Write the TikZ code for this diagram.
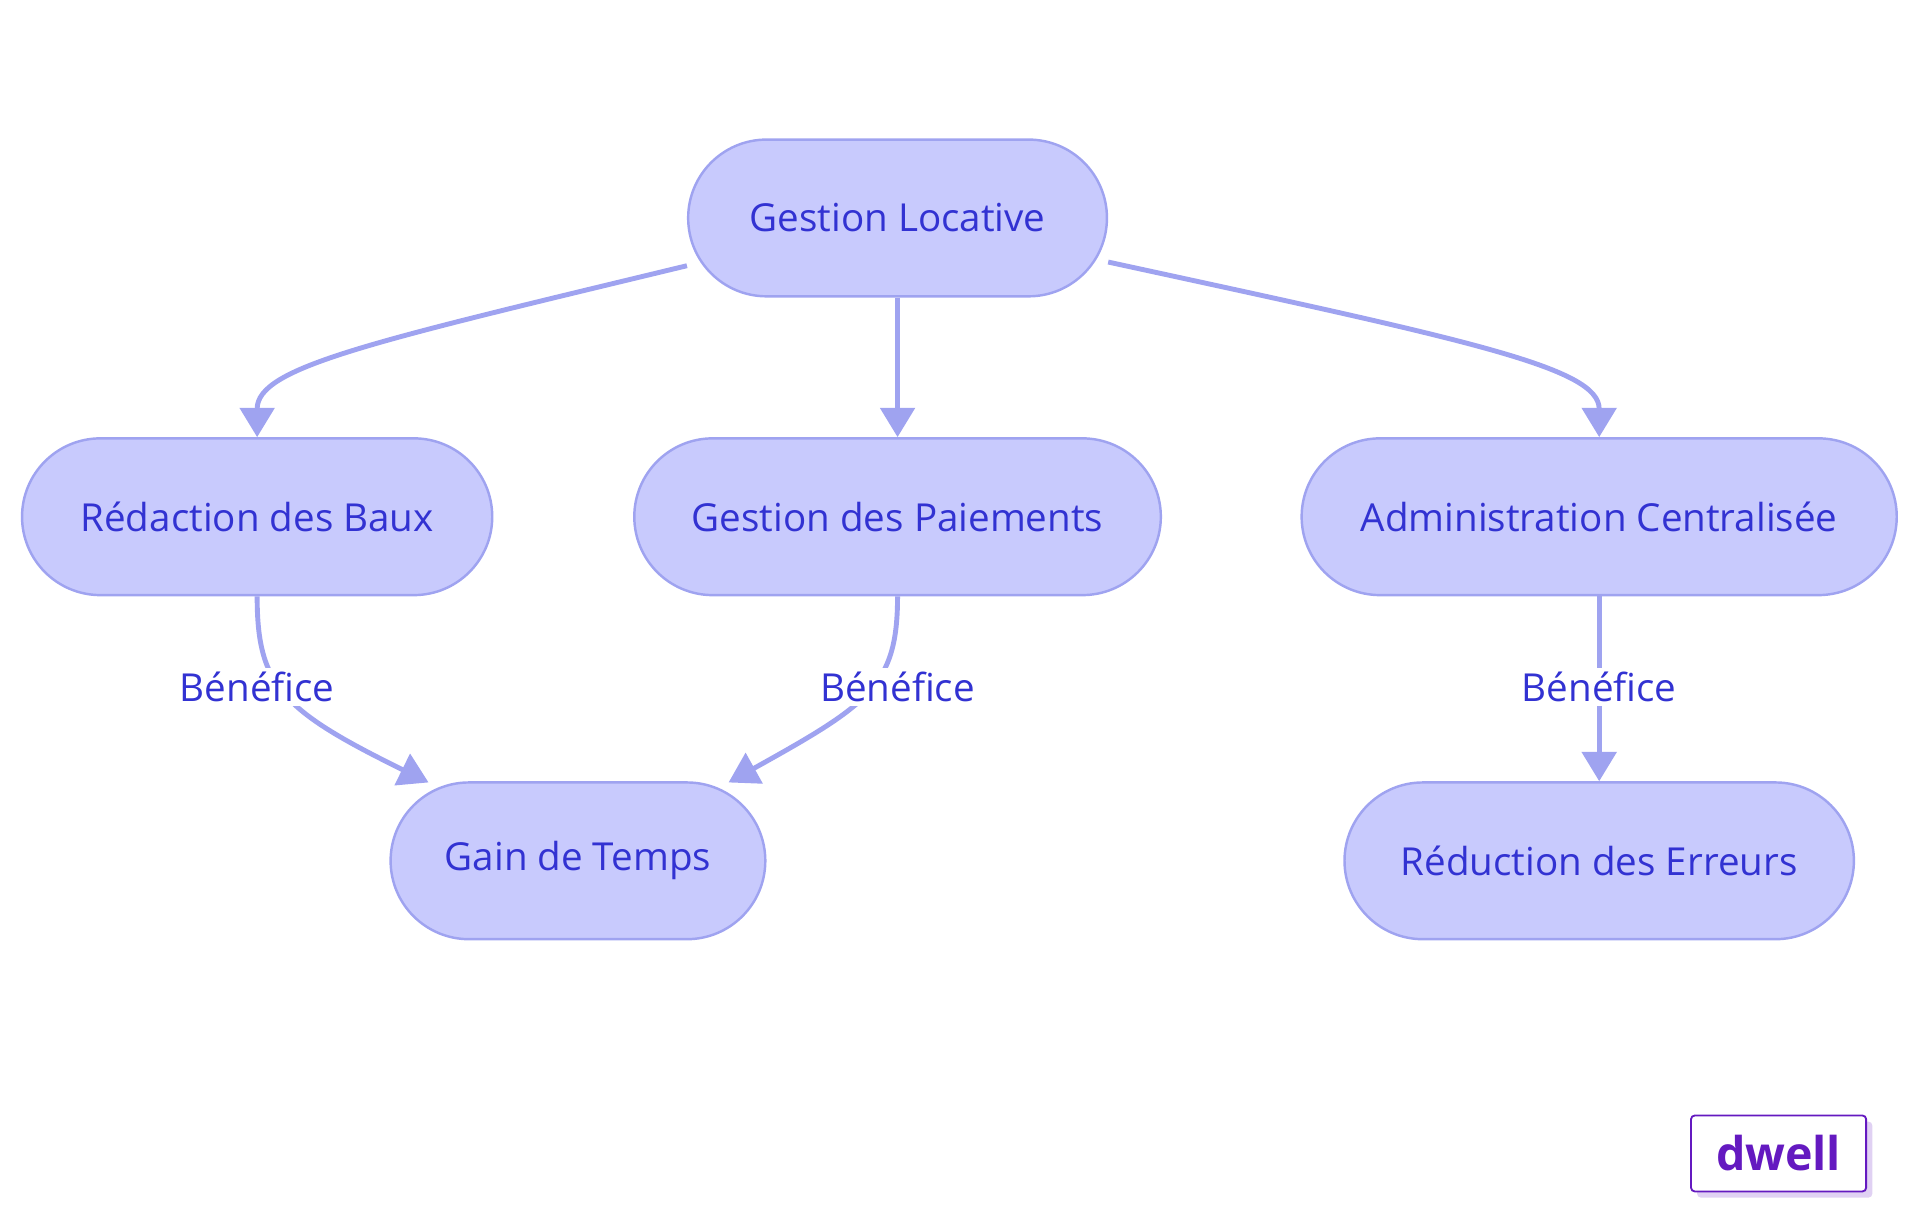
\documentclass[tikz,border=0pt]{standalone}
\usepackage{fontspec}
\setmainfont{Open Sans}
\usetikzlibrary{arrows.meta}
\definecolor{nfill}{HTML}{C8CAFD}
\definecolor{nline}{HTML}{9FA3F0}
\definecolor{ntext}{HTML}{3232D2}
\definecolor{logo}{HTML}{6419C0}
\begin{document}
\begin{tikzpicture}[x=1pt,y=-1pt,
  box/.style={draw=nline,fill=nfill,line width=2pt,rounded corners=64pt,minimum height=128pt,text=ntext,font=\fontsize{31.5}{38}\selectfont,inner sep=0pt},
  edge/.style={draw=nline,line width=4pt,-{Triangle[length=24pt,width=28pt]}},
  lab/.style={fill=white,text=ntext,font=\fontsize{31.5}{38}\selectfont,inner sep=3pt}]
\useasboundingbox (0,0) rectangle (1568,992);
\node[box,minimum width=342pt] (gl) at (733,178) {Gestion Locative};
\node[box,minimum width=384pt] (rb) at (210,422) {Rédaction des Baux};
\node[box,minimum width=430pt] (gp) at (733,422) {Gestion des Paiements};
\node[box,minimum width=486pt] (ac) at (1306,422) {Administration Centralisée};
\node[box,minimum width=306pt] (gt) at (472,703) {Gain de Temps};
\node[box,minimum width=416pt] (re) at (1306,703) {Réduction des Erreurs};
\draw[edge] (gl.west|-0,217) .. controls (300,280) and (210,300) .. (rb.north);
\draw[edge] (gl) -- (gp);
\draw[edge] (gl.east|-0,214) .. controls (1200,278) and (1306,300) .. (ac.north);
\draw[edge] (rb.south) .. controls (210,560) and (230,580) .. (350,639);
\draw[edge] (gp.south) .. controls (733,560) and (710,575) .. (595,639);
\draw[edge] (ac) -- (re);
\node[lab] at (210,561) {Bénéfice};
\node[lab] at (733,561) {Bénéfice};
\node[lab] at (1306,561) {Bénéfice};
\fill[logo!20,rounded corners=3pt] (1386,916) rectangle (1529,978);
\node[draw=logo,fill=white,line width=1.5pt,rounded corners=3pt,minimum width=143pt,minimum height=62pt,text=logo,font=\fontsize{38}{44}\selectfont\bfseries] (dw) at (1452.5,942) {dwell};
\end{tikzpicture}
\end{document}
